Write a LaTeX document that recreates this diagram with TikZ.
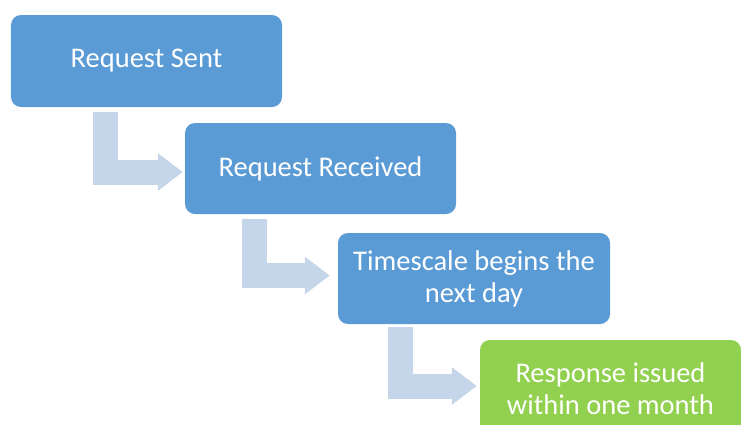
\documentclass[tikz,border=0pt]{standalone}
\usepackage{fontspec}
\setmainfont{Carlito}
\usetikzlibrary{arrows.meta,calc}
\definecolor{boxblue}{HTML}{5B9BD5}
\definecolor{boxgreen}{HTML}{92D050}
\definecolor{arrowblue}{HTML}{C5D5EA}
\tikzset{
  stepbox/.style={rectangle, rounded corners=10bp, fill=boxblue, draw=none,
    text=white, align=center, inner sep=0pt,
    font=\fontsize{28.5bp}{32bp}\selectfont},
  finalbox/.style={stepbox, fill=boxgreen},
  conn/.style={draw=arrowblue, line width=25bp, line join=miter,
    -{Triangle[length=25bp,width=36bp,fill=arrowblue]}}
}
\begin{document}
\begin{tikzpicture}[x=1bp,y=-1bp]
\useasboundingbox (0,0) rectangle (741,424);
\clip (0,0) rectangle (741,424);
\node[stepbox, minimum width=271bp, minimum height=92bp] (b1) at (146.5,61) {Request Sent};
\node[stepbox, minimum width=271bp, minimum height=91bp] (b2) at (320.5,168.5) {Request Received};
\node[stepbox, minimum width=272bp, minimum height=91bp] (b3) at (474,278.5) {Timescale begins the\\next day};
\node[finalbox, minimum width=261bp, minimum height=98bp] (b4) at (610.5,389) {Response issued\\within one month};
\draw[conn] ($(b1.south west)+(94.5,5)$) |- ($(b2.west)+(-2,3.5)$);
\draw[conn] ($(b2.south west)+(69.5,5)$) |- ($(b3.west)+(-8,-3)$);
\draw[conn] ($(b3.south west)+(62.5,3)$) |- ($(b4.west)+(-3,-3)$);
\end{tikzpicture}
\end{document}
